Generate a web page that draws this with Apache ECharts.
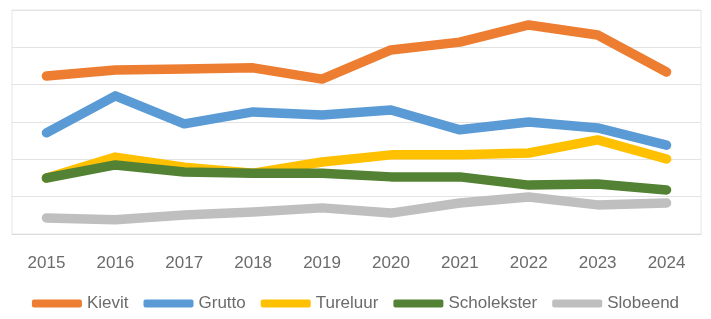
<!DOCTYPE html>
<head>
    <meta charset="utf-8">
    <title>Weidevogels</title>
</head>
<body style="margin:0;background:#fff">
    <div id="main" style="width:711px;height:319px"></div>
    <script src="https://cdn.jsdelivr.net/npm/echarts@6/dist/echarts.min.js"></script>
    <script type="text/javascript">

    // jaren op de x-as
    var jaren = ['2015', '2016', '2017', '2018', '2019', '2020', '2021', '2022', '2023', '2024'];

    var kievit      = [42.3, 43.9, 44.2, 44.5, 41.5, 49.3, 51.4, 56.0, 53.3, 43.4];
    var grutto      = [27.1, 37.0, 29.5, 32.7, 31.9, 33.2, 27.9, 30.0, 28.4, 23.8];
    var tureluur    = [15.0, 20.6, 17.9, 16.3, 19.3, 21.2, 21.2, 21.7, 25.2, 20.1];
    var scholekster = [15.0, 18.5, 16.6, 16.3, 16.3, 15.3, 15.3, 13.1, 13.4, 11.8];
    var slobeend    = [4.3, 3.8, 5.1, 5.9, 7.0, 5.6, 8.3, 9.9, 7.8, 8.3];

    var namen = ['Kievit', 'Grutto', 'Tureluur', 'Scholekster', 'Slobeend'];
    var reeksen = [kievit, grutto, tureluur, scholekster, slobeend];
    var kleuren = ['#ED7D31', '#5B9BD5', '#FFC000', '#548235', '#BFBFBF'];

    var myChart = echarts.init(document.getElementById('main'));

    var series = namen.map(function (naam, i) {
        return {
            name: naam,
            type: 'line',
            data: reeksen[i],
            symbol: 'none',
            z: 2 + (i === 4 ? 0 : i + 1),
            itemStyle: { color: kleuren[i] },
            lineStyle: { color: kleuren[i], width: 9.5, cap: 'round', join: 'round' }
        };
    });

    var option = {
        animation: false,
        color: kleuren,
        grid: {
            left: 12, right: 10, top: 10, bottom: 85,
            show: true, borderColor: '#e6e6e6', borderWidth: 1
        },
        legend: {
            bottom: 2,
            left: 'center',
            data: namen,
            icon: 'roundRect',
            itemWidth: 50,
            itemHeight: 8,
            itemGap: 15,
            textStyle: { color: '#6b6b6b', fontSize: 17, fontFamily: 'Liberation Sans' }
        },
        xAxis: {
            type: 'category',
            data: jaren,
            boundaryGap: true,
            axisLine: { lineStyle: { color: '#dcdcdc' } },
            axisTick: { show: false },
            axisLabel: { color: '#6b6b6b', fontSize: 17, fontFamily: 'Liberation Sans', margin: 21 }
        },
        yAxis: {
            type: 'value',
            min: 0, max: 60, interval: 10,
            axisLabel: { show: false },
            axisLine: { show: false },
            axisTick: { show: false },
            splitLine: { lineStyle: { color: '#e3e3e3' } }
        },
        series: series
    };

    myChart.setOption(option);
    </script>
</body>
